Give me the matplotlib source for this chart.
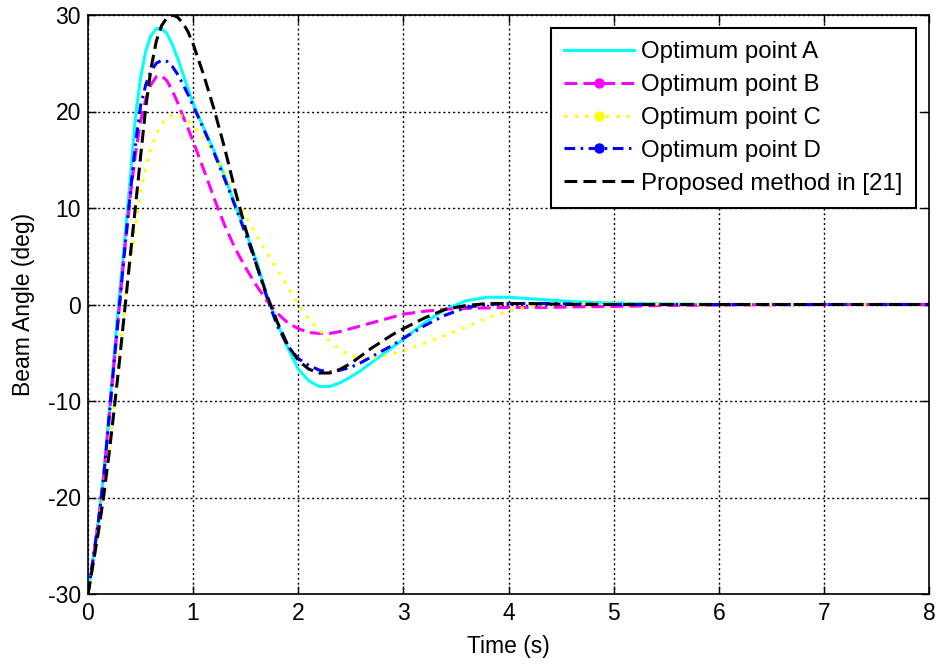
import matplotlib
matplotlib.use("Agg")
import matplotlib.pyplot as plt
from matplotlib.lines import Line2D

plt.rcParams['font.family'] = ['Liberation Sans', 'DejaVu Sans']

# ---- data ----
t = [0.0, 0.05, 0.1, 0.15, 0.2, 0.25, 0.3, 0.35, 0.4, 0.45, 0.5, 0.55, 0.6, 0.65, 0.7, 0.75, 0.8, 0.85, 0.9, 0.95, 1.0,
     1.1, 1.2, 1.3, 1.4, 1.5, 1.6, 1.7, 1.8, 1.9, 2.0, 2.1, 2.2, 2.3, 2.4, 2.5, 2.6, 2.7, 2.8, 2.9, 3.0,
     3.2, 3.4, 3.6, 3.8, 4.0, 4.2, 4.4, 4.6, 5.0, 5.5, 6.0, 7.0, 8.0]

point_a = [-30, -26.2, -22.3, -17.5, -11.3, -5.0, 1.2, 6.8, 12.8, 19.3, 23.5, 26.3, 27.9, 28.6, 28.6, 28.1, 27.0, 25.6, 24.0, 22.4, 20.8,
           18.3, 15.9, 13.3, 10.3, 7.6, 4.6, 1.0, -1.9, -4.5, -6.7, -7.9, -8.5, -8.5, -8.1, -7.5, -6.8, -6.0, -5.2, -4.4, -3.6,
           -1.9, -0.5, 0.4, 0.75, 0.75, 0.6, 0.45, 0.3, 0.15, 0.05, 0.0, 0.0, 0.0]

point_b = [-30, -26.3, -22.4, -17.8, -11.8, -5.8, 0.0, 5.8, 11.0, 15.5, 19.0, 21.3, 22.8, 23.6, 23.7, 23.2, 22.2, 21.0, 19.6, 18.3, 16.9,
           14.0, 11.0, 8.2, 5.8, 3.8, 2.0, 0.4, -0.9, -1.9, -2.5, -2.9, -3.0, -3.0, -2.8, -2.5, -2.2, -1.9, -1.6, -1.3, -1.0,
           -0.7, -0.5, -0.4, -0.35, -0.3, -0.3, -0.3, -0.25, -0.2, -0.1, -0.05, 0.0, 0.0]

point_c = [-30, -26.8, -23.2, -19.2, -14.8, -10.0, -5.0, 0.0, 4.2, 8.0, 11.5, 14.3, 16.2, 17.7, 18.7, 19.3, 19.6, 19.7, 19.5, 19.1, 18.5,
           17.2, 15.6, 13.6, 11.4, 9.2, 7.2, 5.4, 3.6, 1.8, 0.0, -1.5, -2.7, -3.8, -4.7, -5.3, -5.6, -5.6, -5.4, -5.1, -4.8,
           -4.0, -3.2, -2.3, -1.4, -0.7, -0.2, 0.0, 0.1, 0.1, 0.05, 0.0, 0.0, 0.0]

point_d = [-30, -26.3, -22.4, -17.8, -11.8, -5.8, 0.0, 5.8, 11.3, 16.5, 20.6, 22.8, 24.2, 25.0, 25.3, 25.2, 24.7, 23.9, 22.9, 21.8, 20.6,
           18.2, 15.7, 13.0, 10.2, 7.3, 4.2, 0.8, -2.2, -4.3, -5.6, -6.3, -6.8, -7.0, -6.8, -6.5, -6.0, -5.4, -4.8, -4.2, -3.5,
           -2.2, -1.1, -0.3, 0.0, 0.1, 0.1, 0.1, 0.05, 0.0, 0.0, 0.0, 0.0, 0.0]

proposed = [-30, -26.8, -23.5, -19.8, -15.5, -10.8, -5.8, -0.5, 4.8, 10.0, 15.3, 20.5, 24.5, 27.3, 28.9, 29.7, 30.0, 29.8, 29.2, 28.3, 27.0,
            23.8, 20.2, 16.2, 11.8, 7.8, 4.2, 1.0, -1.8, -4.2, -5.8, -6.7, -7.1, -7.1, -6.7, -6.1, -5.3, -4.5, -3.8, -3.1, -2.5,
            -1.4, -0.5, -0.1, 0.1, 0.1, 0.1, 0.05, 0.0, 0.0, 0.0, 0.0, 0.0, 0.0]

labels = ['Optimum point A', 'Optimum point B', 'Optimum point C', 'Optimum point D', 'Proposed method in [21]']
x_ticks = [0, 1, 2, 3, 4, 5, 6, 7, 8]
y_ticks = [-30, -20, -10, 0, 10, 20, 30]

# ---- figure ----
FS = 16.5
LFS = 17.3
fig = plt.figure(figsize=(9.4, 6.66), dpi=100)
ax = fig.add_axes([88 / 940, (666 - 594) / 666, 841 / 940, 579 / 666])

lw = 2.2
styles = [
    dict(color=(0, 1, 1), dashes=None, marker=None),
    dict(color=(1, 0, 1), dashes=(4.2, 2.0), marker='o'),
    dict(color=(1, 1, 0), dashes=(1.0, 2.4), marker='o'),
    dict(color=(0, 0, 1), dashes=(3.5, 1.8, 0.8, 1.8), marker='o'),
    dict(color=(0, 0, 0), dashes=(4.2, 2.0), marker=None),
]
series = [point_a, point_b, point_c, point_d, proposed]

handles = []
for y, st, lab in zip(series, styles, labels):
    ln, = ax.plot(t, y, color=st['color'], lw=lw, solid_joinstyle='round', solid_capstyle='round')
    if st['dashes'] is not None:
        ln.set_dashes(st['dashes'])
    h = Line2D([], [], color=st['color'], lw=lw)
    if st['dashes'] is not None:
        h.set_dashes(st['dashes'])
    if st['marker']:
        h.set_marker('o')
        h.set_markersize(6.5)
        h.set_markerfacecolor(st['color'])
        h.set_markeredgecolor(st['color'])
    handles.append(h)

ax.set_xlim(0, 8)
ax.set_ylim(-30, 30)
ax.set_xticks(x_ticks)
ax.set_yticks(y_ticks)
ax.set_xticklabels([str(v) for v in x_ticks])
ax.set_yticklabels([str(v) for v in y_ticks])
ax.tick_params(direction='in', length=6, width=1, labelsize=FS, top=True, right=True,
               colors='black')
ax.tick_params(axis='y', pad=5)
ax.tick_params(axis='x', pad=6)
ax.grid(True, color='black', lw=1.0, linestyle=(0, (1.5, 2.0)))
for sp in ax.spines.values():
    sp.set_linewidth(1.2)
    sp.set_color('black')

ax.set_xlabel('Time (s)', fontsize=FS, labelpad=7)
ax.set_ylabel('Beam Angle (deg)', fontsize=FS, labelpad=9)

leg = ax.legend(handles, labels, loc='upper right', fontsize=LFS, frameon=True, fancybox=False,
                framealpha=1, edgecolor='black', handlelength=2.9, handletextpad=0.3,
                labelspacing=0.45, borderpad=0.55, borderaxespad=0.55, numpoints=1)
leg.get_frame().set_linewidth(1.5)

fig.savefig('out.png', dpi=100)
